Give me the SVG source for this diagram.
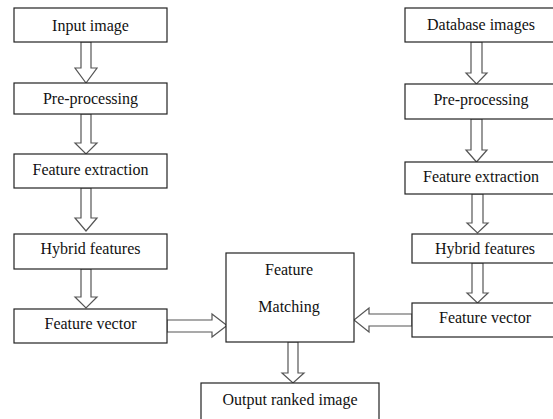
<svg xmlns="http://www.w3.org/2000/svg" width="553" height="419" viewBox="0 0 553 419">
<style>
.box{fill:#fff;stroke:#222;stroke-width:1.2}
.arr{fill:#fff;stroke:#555;stroke-width:1.2;stroke-linejoin:miter}
text{font-family:"Liberation Serif","Times New Roman",serif;font-size:16px;fill:#111;text-anchor:middle}
</style>
<rect width="553" height="419" fill="#fff"/>
<g id="connectors">
<polygon class="arr" points="81,42 91,42 91,68 97,68 86,83 75,68 81,68"/>
<polygon class="arr" points="81,114 91,114 91,143 97,143 86,154 75,143 81,143"/>
<polygon class="arr" points="81,188 91,188 91,218 97,218 86,231 75,218 81,218"/>
<polygon class="arr" points="81,269 91,269 91,297 97,297 86,308 75,297 81,297"/>
<polygon class="arr" points="471,42 482,42 482,73 487,73 476.5,84 466,73 471,73"/>
<polygon class="arr" points="471,119 482,119 482,150 487,150 476.5,162 466,150 471,150"/>
<polygon class="arr" points="472,194 483,194 483,223 488,223 477.5,233 467,223 472,223"/>
<polygon class="arr" points="472,263 483,263 483,293 488,293 477.5,303 467,293 472,293"/>
<polygon class="arr" points="167,320 212,320 212,314 227,325.5 212,337 212,332 167,332"/>
<polygon class="arr" points="412,314 369,314 369,308 354,320 369,332 369,326 412,326"/>
<polygon class="arr" points="288,342 298,342 298,373 304,373 293,383 282,373 288,373"/>
</g>
<g id="input"><rect class="box" x="14" y="8" width="153" height="34"/><text x="90.5" y="31">Input image</text></g>
<g id="pre-left"><rect class="box" x="14" y="83" width="153" height="31"/><text x="90.5" y="104">Pre-processing</text></g>
<g id="fe-left"><rect class="box" x="14" y="154" width="153" height="34"/><text x="90.5" y="175">Feature extraction</text></g>
<g id="hf-left"><rect class="box" x="14" y="234" width="153" height="35"/><text x="90.5" y="254">Hybrid features</text></g>
<g id="fv-left"><rect class="box" x="14" y="309" width="153" height="34"/><text x="90.5" y="329">Feature vector</text></g>
<g id="db"><rect class="box" x="405" y="8" width="152" height="34"/><text x="481" y="30">Database images</text></g>
<g id="pre-right"><rect class="box" x="405" y="84" width="152" height="35"/><text x="481" y="105">Pre-processing</text></g>
<g id="fe-right"><rect class="box" x="405" y="162" width="152" height="32"/><text x="481" y="182">Feature extraction</text></g>
<g id="hf-right"><rect class="box" x="412" y="234" width="146" height="29"/><text x="485" y="254">Hybrid features</text></g>
<g id="fv-right"><rect class="box" x="412" y="303" width="146" height="34"/><text x="485" y="323">Feature vector</text></g>
<g id="matching"><rect class="box" x="226" y="253" width="128" height="89"/><text x="289" y="275">Feature</text><text x="289" y="312">Matching</text></g>
<g id="output"><rect class="box" x="201" y="383" width="178" height="40"/><text x="290" y="405">Output ranked image</text></g>
</svg>
